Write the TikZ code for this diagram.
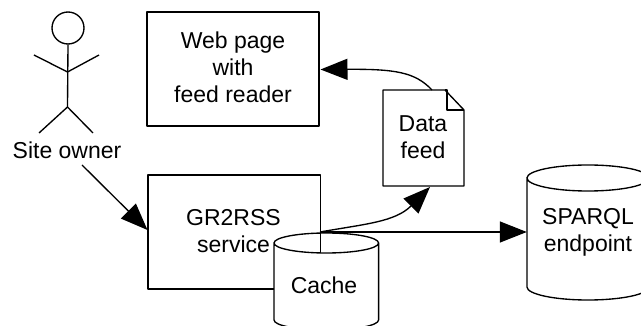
\documentclass[tikz,border=0pt]{standalone}
\usepackage{fontspec}
\setmainfont{Liberation Sans}
\usetikzlibrary{arrows.meta}
\tikzset{
  x=1pt,y=-1pt,
  line/.style={draw=black,line width=1.35pt,line join=round},
  lab/.style={align=center,font=\fontsize{23}{27}\selectfont,inner sep=0pt},
  boxnode/.style={line,rectangle,minimum width=#1,inner sep=0pt},
  region/.style={rectangle,inner sep=0pt,minimum width=0pt},
  conn/.style={line,-{Triangle[length=27pt,width=21pt]}}
}
\begin{document}
\begin{tikzpicture}
\useasboundingbox (0,0) rectangle (641,326);
\clip (0,0) rectangle (641,326);
\fill[white] (0,0) rectangle (641,326);
% actor
\node[line,circle,minimum size=32pt,inner sep=0pt] (head) at (68,28) {};
\coordinate (hip) at (67.5,107);
\coordinate (shoulder) at (67.5,72);
\coordinate (armL) at (34,55);
\coordinate (armR) at (99,55);
\coordinate (legL) at (39,133);
\coordinate (legR) at (93,133);
\draw[line] (head.south) -- (hip);
\draw[line] (armL) -- (shoulder) -- (armR);
\draw[line] (legL) -- (hip) -- (legR);
\node[lab] (owner) at (67,150) {Site owner};
% boxes
\node[boxnode=172pt,minimum height=114pt] (web) at (233,69) {};
\node[lab] (webt) at (233,67.5) {Web page\\with\\feed reader};
\node[boxnode=172.5pt,minimum height=114pt] (gr) at (234.3,232) {};
\node[lab] (grt) at (233.5,231) {GR2RSS\\service};
% data feed
\node[region,minimum width=81pt,minimum height=96pt] (feed) at (423.5,138) {};
\draw[line,fill=white] (383,90) -- (445,90) -- (464,110) -- (464,186) -- (383,186) -- cycle;
\draw[line] (445,90) -- (447,90) -- (447,110) -- (464,110);
\node[lab] (feedt) at (423,137) {Data\\feed};
% cache
\node[region,minimum width=104.5pt,minimum height=93pt] (cache) at (326.3,279.5) {};
\draw[line,fill=white] (274,243) arc[x radius=52.3,y radius=10,start angle=180,end angle=0]
  -- (378.6,320) arc[x radius=52.3,y radius=10,start angle=0,end angle=180] -- cycle;
\draw[line] (274,243) arc[x radius=52.3,y radius=10,start angle=180,end angle=360];
\node[lab] (cachet) at (324,285) {Cache};
% sparql
\node[region,minimum width=122pt,minimum height=134pt] (sparql) at (588,232) {};
\draw[line,fill=white] (527,178) arc[x radius=61,y radius=13,start angle=180,end angle=0]
  -- (649,287) arc[x radius=61,y radius=13,start angle=0,end angle=180] -- cycle;
\draw[line] (527,178) arc[x radius=61,y radius=13,start angle=180,end angle=360];
\node[lab] (sparqlt) at (588,232) {SPARQL\\endpoint};
% connectors
\coordinate (grout) at (320,232);
\coordinate (feedbot) at (430,187);
\coordinate (feedtop) at (432,90);
\coordinate (webin) at (320.5,69.5);
\coordinate (ownerout) at (82,165);
\coordinate (grin) at (147.5,230);
\draw[conn] (ownerout) -- (grin);
\draw[conn] (feedtop) .. controls (415,72) and (395,69) .. (webin);
\draw[conn] (grout) .. controls (365,224) and (395,222) .. (feedbot);
\draw[conn] (grout) -- (sparql.west);
\end{tikzpicture}
\end{document}
